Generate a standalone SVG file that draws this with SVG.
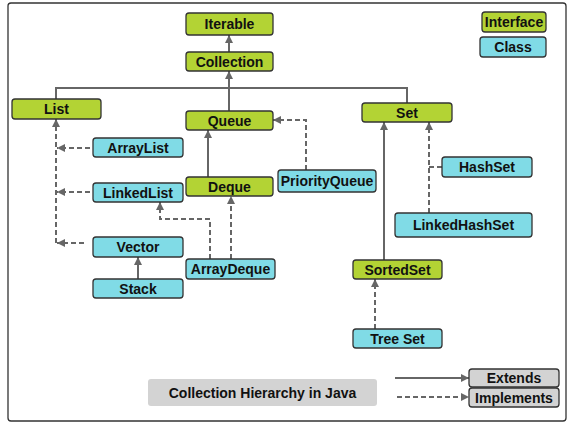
<svg xmlns="http://www.w3.org/2000/svg" width="573" height="430" viewBox="0 0 573 430">
<style>
.i{fill:#b3d334;stroke:#333;stroke-width:1.3}
.c{fill:#80dbe6;stroke:#333;stroke-width:1.3}
.g{fill:#d3d3d3;stroke:#333;stroke-width:1.3}
text{font-family:"Liberation Sans",Arial,sans-serif;font-weight:bold;font-size:14px;fill:#111;text-anchor:middle}
.ln{fill:none;stroke:#666;stroke-width:2}
.d{stroke-dasharray:5,3}
</style>
<defs>
<marker id="a" viewBox="0 0 10 10" refX="10" refY="5" markerWidth="9" markerHeight="8" markerUnits="userSpaceOnUse" orient="auto">
<path d="M0,0 L10,5 L0,10 z" fill="#666"/>
</marker>
</defs>
<rect x="8" y="3" width="558" height="418" rx="3" fill="#fff" stroke="#333" stroke-width="1.3"/>
<g id="connectors">
<path class="ln" d="M229,52 L229,35" marker-end="url(#a)"/>
<path class="ln" d="M229,111 L229,71" marker-end="url(#a)"/>
<path class="ln" d="M56,99 L56,88 L407,88 L407,103"/>
<path class="ln" d="M208,177 L208,130" marker-end="url(#a)"/>
<path class="ln d" d="M306,170 L306,120 L273,120" marker-end="url(#a)"/>
<path class="ln d" d="M56,243 L56,119" marker-end="url(#a)"/>
<path class="ln d" d="M90,148 L57,148" marker-end="url(#a)"/>
<path class="ln d" d="M90,192 L57,192" marker-end="url(#a)"/>
<path class="ln d" d="M84,243 L57,243" marker-end="url(#a)"/>
<path class="ln" d="M138,279 L138,257" marker-end="url(#a)"/>
<path class="ln d" d="M210,259 L210,219 L160,219 L160,202" marker-end="url(#a)"/>
<path class="ln d" d="M231,259 L231,196" marker-end="url(#a)"/>
<path class="ln" d="M384,260 L384,122" marker-end="url(#a)"/>
<path class="ln d" d="M429,213 L429,122" marker-end="url(#a)"/>
<path class="ln d" d="M442,167 L429,167"/>
<path class="ln d" d="M375,329 L375,279" marker-end="url(#a)"/>
<path class="ln" d="M395,378 L469,378" marker-end="url(#a)"/>
<path class="ln d" d="M397,397 L469,397" marker-end="url(#a)"/>
</g>
<g id="iterable"><rect class="i" x="186" y="13" width="87" height="22" rx="3"/><text x="229.5" y="29">Iterable</text></g>
<g id="collection"><rect class="i" x="186" y="52" width="87" height="19" rx="3"/><text x="229.5" y="66.5">Collection</text></g>
<g id="list"><rect class="i" x="12" y="99" width="89" height="20" rx="3"/><text x="56.5" y="114">List</text></g>
<g id="queue"><rect class="i" x="186" y="111" width="87" height="19" rx="3"/><text x="229.5" y="125.5">Queue</text></g>
<g id="set"><rect class="i" x="362" y="103" width="90" height="19" rx="3"/><text x="407" y="117.5">Set</text></g>
<g id="arraylist"><rect class="c" x="93" y="138" width="90" height="19" rx="3"/><text x="138" y="152.5">ArrayList</text></g>
<g id="linkedlist"><rect class="c" x="93" y="183" width="90" height="19" rx="3"/><text x="138" y="197.5">LinkedList</text></g>
<g id="deque"><rect class="i" x="186" y="177" width="87" height="19" rx="3"/><text x="229.5" y="191.5">Deque</text></g>
<g id="priorityqueue"><rect class="c" x="278" y="170" width="98" height="22" rx="3"/><text x="327" y="186">PriorityQueue</text></g>
<g id="vector"><rect class="c" x="93" y="237" width="90" height="20" rx="3"/><text x="138" y="252">Vector</text></g>
<g id="stack"><rect class="c" x="93" y="279" width="90" height="19" rx="3"/><text x="138" y="293.5">Stack</text></g>
<g id="arraydeque"><rect class="c" x="186" y="259" width="89" height="20" rx="3"/><text x="230.5" y="274">ArrayDeque</text></g>
<g id="hashset"><rect class="c" x="442" y="157" width="90" height="20" rx="3"/><text x="487" y="172">HashSet</text></g>
<g id="linkedhashset"><rect class="c" x="395" y="213" width="137" height="24" rx="3"/><text x="463.5" y="230">LinkedHashSet</text></g>
<g id="sortedset"><rect class="i" x="353" y="260" width="89" height="19" rx="3"/><text x="397.5" y="274.5">SortedSet</text></g>
<g id="treeset"><rect class="c" x="353" y="329" width="89" height="19" rx="3"/><text x="397.5" y="343.5">Tree Set</text></g>
<g id="legend-interface"><rect class="i" x="482" y="12" width="64" height="20" rx="3"/><text x="514" y="27">Interface</text></g>
<g id="legend-class"><rect class="c" x="480" y="37" width="66" height="20" rx="3"/><text x="513" y="52">Class</text></g>
<g id="legend-extends"><rect class="g" x="469" y="369" width="90" height="18" rx="3"/><text x="514" y="383">Extends</text></g>
<g id="legend-implements"><rect class="g" x="469" y="388" width="90" height="19" rx="3"/><text x="514" y="402.5">Implements</text></g>
<g id="title"><rect x="148" y="379" width="229" height="27" rx="3" fill="#d3d3d3"/><text x="262.5" y="397.5">Collection Hierarchy in Java</text></g>
</svg>
